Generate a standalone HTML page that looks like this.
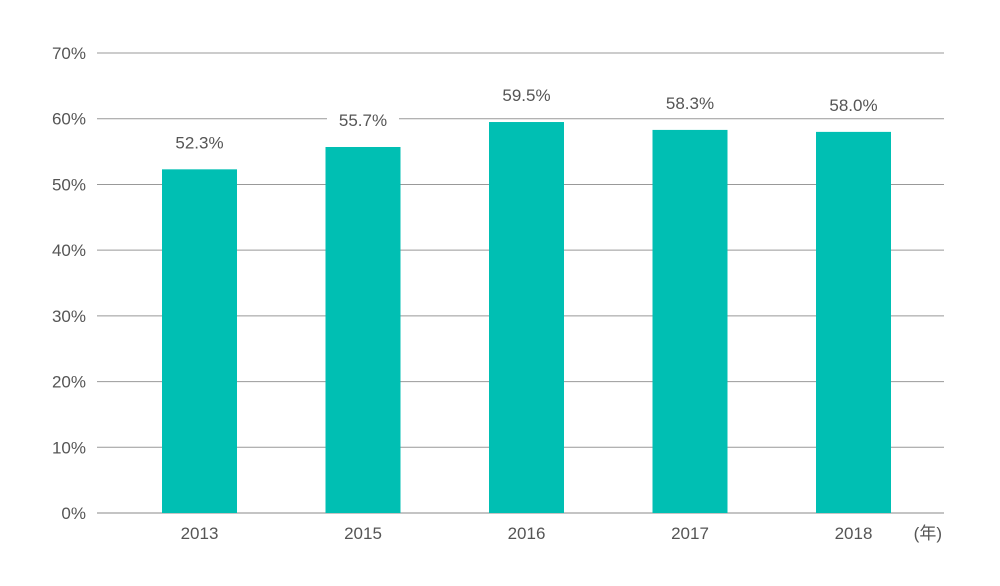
<!DOCTYPE html>
<html><head><meta charset="utf-8"><style>
body{margin:0;background:#fff;}
svg text{font-family:"Liberation Sans","Noto Sans CJK JP",sans-serif;fill:#555;font-size:17px;}
</style></head><body>
<svg width="1000" height="581" viewBox="0 0 1000 581" xmlns="http://www.w3.org/2000/svg">
<g id="grid"></g><g id="bars"></g><g id="labels"></g>
<text x="942" y="539" text-anchor="end">(年)</text>
</svg>
<script>
const categories=["2013","2015","2016","2017","2018"];
const values=[52.3,55.7,59.5,58.3,58.0];
const valueLabels=["52.3%","55.7%","59.5%","58.3%","58.0%"];
const yTicks=[0,10,20,30,40,50,60,70];
const yTickLabels=["0%","10%","20%","30%","40%","50%","60%","70%"];
const NS="http://www.w3.org/2000/svg";
const x0=97,x1=944,yBase=513,pxPer=6.571;
const y=v=>yBase-v*pxPer;
const step=163.5,first=199.5,bw=75;
const xc=i=>first+i*step;
function mk(t,a,p){const e=document.createElementNS(NS,t);for(const k in a)e.setAttribute(k,a[k]);p.appendChild(e);return e;}
const g=document.getElementById('grid'),b=document.getElementById('bars'),l=document.getElementById('labels');
yTicks.forEach((t,i)=>{
 const ln=mk('line',{x1:x0,x2:x1,y1:y(t),y2:y(t),stroke:t===0?'#888':'#999','stroke-width':1},g);
 
 
 const tx=mk('text',{x:86,y:y(t)+6,'text-anchor':'end'},g);tx.textContent=yTickLabels[i];
 
 
});
categories.forEach((c,i)=>{
 const r=mk('rect',{x:xc(i)-bw/2,y:y(values[i]),width:bw,height:yBase-y(values[i]),fill:'#00bfb3'},b);
 
 
 const bg=mk('rect',{x:xc(i)-36,y:y(values[i])-38,width:72,height:22,fill:'#fff'},l);
 
 
 const vt=mk('text',{x:xc(i),y:y(values[i])-21,'text-anchor':'middle'},l);vt.textContent=valueLabels[i];
 
 
 const ct=mk('text',{x:xc(i),y:539,'text-anchor':'middle'},l);ct.textContent=c;
 
 
});
</script>
</body></html>
